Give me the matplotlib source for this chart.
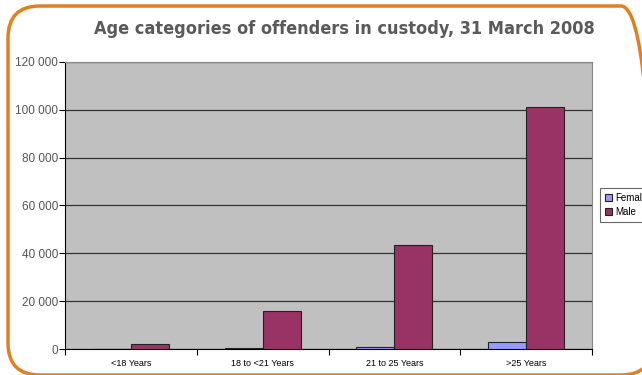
import matplotlib.pyplot as plt
import numpy as np
from matplotlib.patches import FancyBboxPatch
from matplotlib import font_manager

# data
categories = ['<18 Years', '18 to <21 Years', '21 to 25 Years', '>25 Years']
female = [0, 400, 800, 2800]
male = [2100, 16000, 43600, 101000]
yticks = [0, 20000, 40000, 60000, 80000, 100000, 120000]
ylabels = ['0', '20 000', '40 000', '60 000', '80 000', '100 000', '120 000']

plt.rcParams['font.family'] = ['Liberation Sans', 'DejaVu Sans']

fig = plt.figure(figsize=(6.42, 3.75), dpi=100)
ax = fig.add_axes([65/642, 1-349/375, 527/642, 287/375])

x = np.arange(len(categories))
w = 0.288
ax.bar(x - w/2, female, w, color='#9999FF', edgecolor='#222222', linewidth=0.8,
       label='Female', zorder=3)
ax.bar(x + w/2, male, w, color='#993366', edgecolor='#222222', linewidth=0.8,
       label='Male', zorder=3)

ax.set_facecolor('#C0C0C0')
ax.set_xlim(-0.5, 3.5)
ax.set_ylim(0, 120000)
ax.set_yticks(yticks)
ax.set_yticklabels(ylabels, fontsize=8.5, color='#555555')
ax.yaxis.grid(True, color='#333333', linewidth=0.9, zorder=1)

# excel style: ticks between categories, labels in the middle
ax.set_xticks(np.arange(-0.5, 4, 1))
ax.set_xticklabels([])
ax.set_xticks(x, minor=True)
ax.set_xticklabels(categories, minor=True, fontsize=6.5)
ax.tick_params(axis='x', which='minor', length=0, pad=7)
ax.tick_params(axis='x', which='major', length=4, direction='out', color='black')
ax.tick_params(axis='y', length=4, direction='out', color='black', pad=1)

for s in ['top', 'right']:
    ax.spines[s].set_color('#888888')
for s in ['left', 'bottom']:
    ax.spines[s].set_color('black')

leg = fig.legend(loc='center left', bbox_to_anchor=(600/642, 1-205/375),
                 fontsize=7, frameon=True, fancybox=False, handlelength=0.75,
                 handleheight=0.75, handletextpad=0.35, borderpad=0.5,
                 labelspacing=0.45, borderaxespad=0)
leg.get_frame().set_edgecolor('#444444')
leg.get_frame().set_linewidth(0.8)

# condensed bold title if a condensed face exists
names = {f.name for f in font_manager.fontManager.ttflist}
fams = [n for n in ['Liberation Sans Narrow', 'DejaVu Sans'] if n in names]
fig.text(0.537, 1-29/375, 'Age categories of offenders in custody, 31 March 2008',
         ha='center', va='center', fontsize=13, fontweight='bold',
         fontstretch='condensed', color='#5a5a5a', family=fams)

# orange rounded frame round the whole chart, partly cut at right/bottom
box = FancyBboxPatch((0.08, 0.0), 6.45, 3.69,
                     boxstyle='round,pad=0,rounding_size=0.32',
                     transform=fig.dpi_scale_trans, facecolor='none',
                     edgecolor='#E2801F', linewidth=2.5, clip_on=False)
fig.patches.append(box)

fig.savefig('out.png', dpi=100)
